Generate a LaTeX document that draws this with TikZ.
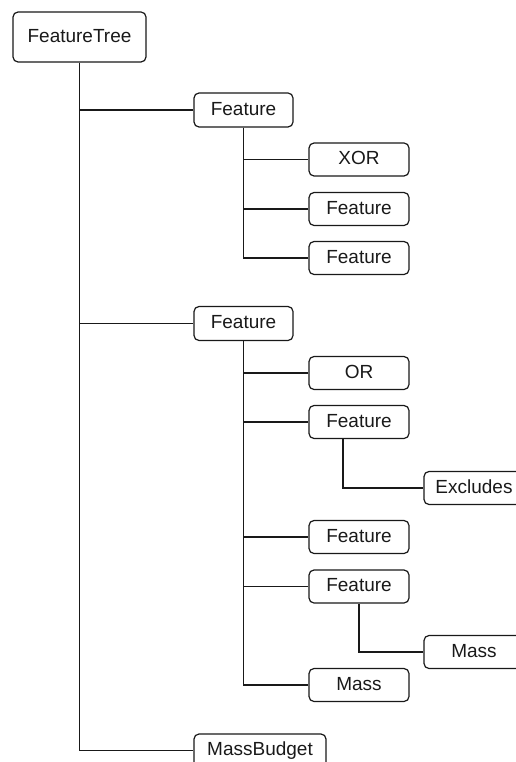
\documentclass[tikz,border=0pt]{standalone}
\usepackage{fontspec}
\setmainfont{Liberation Sans}
\begin{document}
\begin{tikzpicture}[x=1pt,y=-1pt,
  box/.style={draw=black!90, line width=1.2pt, rounded corners=5pt,
    minimum height=33pt, minimum width=100pt, inner sep=0pt,
    text height=14pt, text depth=3.4pt,
    font=\fontsize{19}{21}\selectfont, text=black!90},
  link/.style={draw=black!90, line width=1.2pt}]
\useasboundingbox (0,0) rectangle (515,762);

% root
\node[box, minimum width=133pt, minimum height=50pt] (root) at (79.5,37) {FeatureTree};

% first feature branch
\node[box, minimum width=99pt, minimum height=34pt] (f1) at (243.5,110) {Feature};
\node[box] (xor)  at (359,159.5) {XOR};
\node[box] (f1a)  at (359,209) {Feature};
\node[box] (f1b)  at (359,258) {Feature};

% second feature branch
\node[box, minimum width=99pt, minimum height=34pt] (f2) at (243.5,323.5) {Feature};
\node[box] (or)   at (359,373) {OR};
\node[box] (f2a)  at (359,422) {Feature};
\node[box] (excl) at (474,488) {Excludes};
\node[box] (f2b)  at (359,537) {Feature};
\node[box] (f2c)  at (359,586.5) {Feature};
\node[box] (mass1) at (474,652) {Mass};
\node[box] (mass2) at (359,685) {Mass};

% budget
\node[box, minimum width=132pt] (mb) at (260,750.5) {MassBudget};

% connectors
\path[link] (root.south) |- (f1.west);
\path[link] (root.south) |- (f2.west);
\path[link] (root.south) |- (mb.west);

\path[link] (f1.south) |- (xor.west);
\path[link] (f1.south) |- (f1a.west);
\path[link] (f1.south) |- (f1b.west);

\path[link] (f2.south) |- (or.west);
\path[link] (f2.south) |- (f2a.west);
\path[link] (f2.south) |- (f2b.west);
\path[link] (f2.south) |- (f2c.west);
\path[link] (f2.south) |- (mass2.west);

\path[link] ([xshift=-16pt]f2a.south) |- (excl.west);
\path[link] (f2c.south) |- (mass1.west);
\end{tikzpicture}
\end{document}
